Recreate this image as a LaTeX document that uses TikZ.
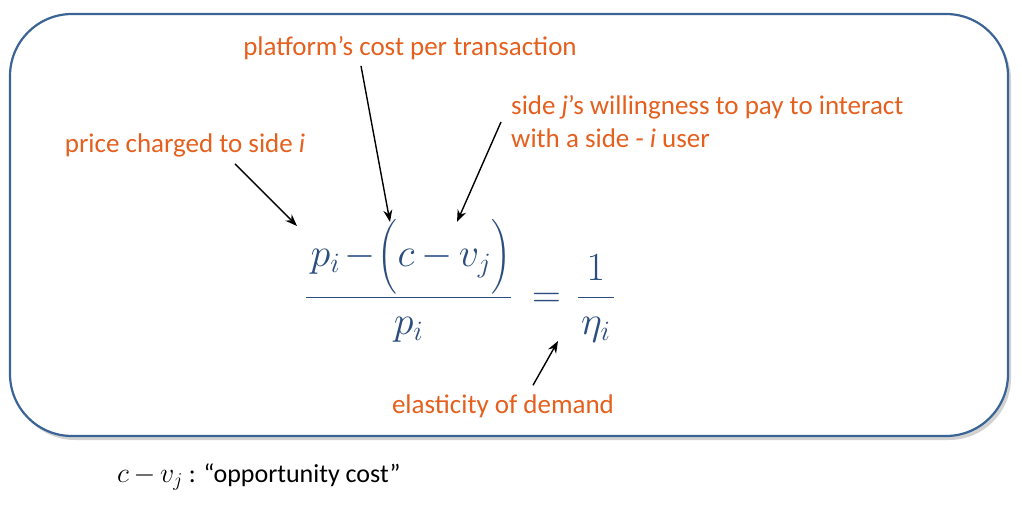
\documentclass[tikz,border=0pt]{standalone}
\usepackage{fix-cm}
\usepackage{amsmath}
\usepackage{fontspec}
\setmainfont{Carlito}
\usetikzlibrary{arrows.meta,shadows}
\definecolor{framecol}{HTML}{3B6496}
\definecolor{notecol}{HTML}{E5601E}
\definecolor{eqblue}{HTML}{2B4E7E}

\begin{document}
\begin{tikzpicture}[x=1pt,y=-1pt,>={Stealth[length=12pt,width=9pt]},
    note/.style={text=notecol,font=\fontsize{27}{33}\selectfont,inner sep=0pt},
    pointer/.style={->,line width=1.4pt}]
    \useasboundingbox (0,0) rectangle (1022,514);
    \draw[framecol,line width=2.2pt,fill=white,rounded corners=62pt,
          drop shadow={shadow xshift=3pt,shadow yshift=-4pt,fill=black!35,opacity=.5}]
        (10,14) rectangle (1008,436);
    % the formula
    \node[text=eqblue,font=\fontsize{40}{48}\selectfont] (eq) at (460,281)
        {$\dfrac{\mskip2mu p_i\mskip2mu{-}\mskip1mu\Bigl(c\mskip3mu{-}\mskip3mu v_j\Bigr)}{p_i}
          \mskip9mu{=}\mskip7mu\dfrac{\mskip4mu 1\mskip4mu}{\eta_i}$};
    % the notes
    \node[note] (cost) at (410,48) {platform’s cost per transaction};
    \node[note,align=left,anchor=west] (wtp) at (511,122)
        {side \textit{j}’s willingness to pay to interact\\with a side - \textit{i} user};
    \node[note] (price) at (185,145) {price charged to side \textit{i}};
    \node[note] (elast) at (503,406) {elasticity of demand};
    \node[font=\fontsize{26}{30}\selectfont,anchor=west,inner sep=0pt] (opp) at (117,477)
        {{\fontsize{28}{30}\selectfont$c\mskip3mu{-}\mskip3mu v_j$} : “opportunity cost”};
    % where the pointers end
    \coordinate (pricetip) at (297,226);
    \coordinate (costtip) at (390,222);
    \coordinate (wtptip) at (457,222);
    \coordinate (elasttip) at (558,341);
    \draw[pointer] ([shift={(50,7)}]price.south) -- (pricetip);
    \draw[pointer] ([shift={(-49,6)}]cost.south) -- (costtip);
    \draw[pointer] ([shift={(-10,0)}]wtp.west) -- (wtptip);
    \draw[pointer] ([shift={(30,-9)}]elast.north) -- (elasttip);
\end{tikzpicture}
\end{document}
